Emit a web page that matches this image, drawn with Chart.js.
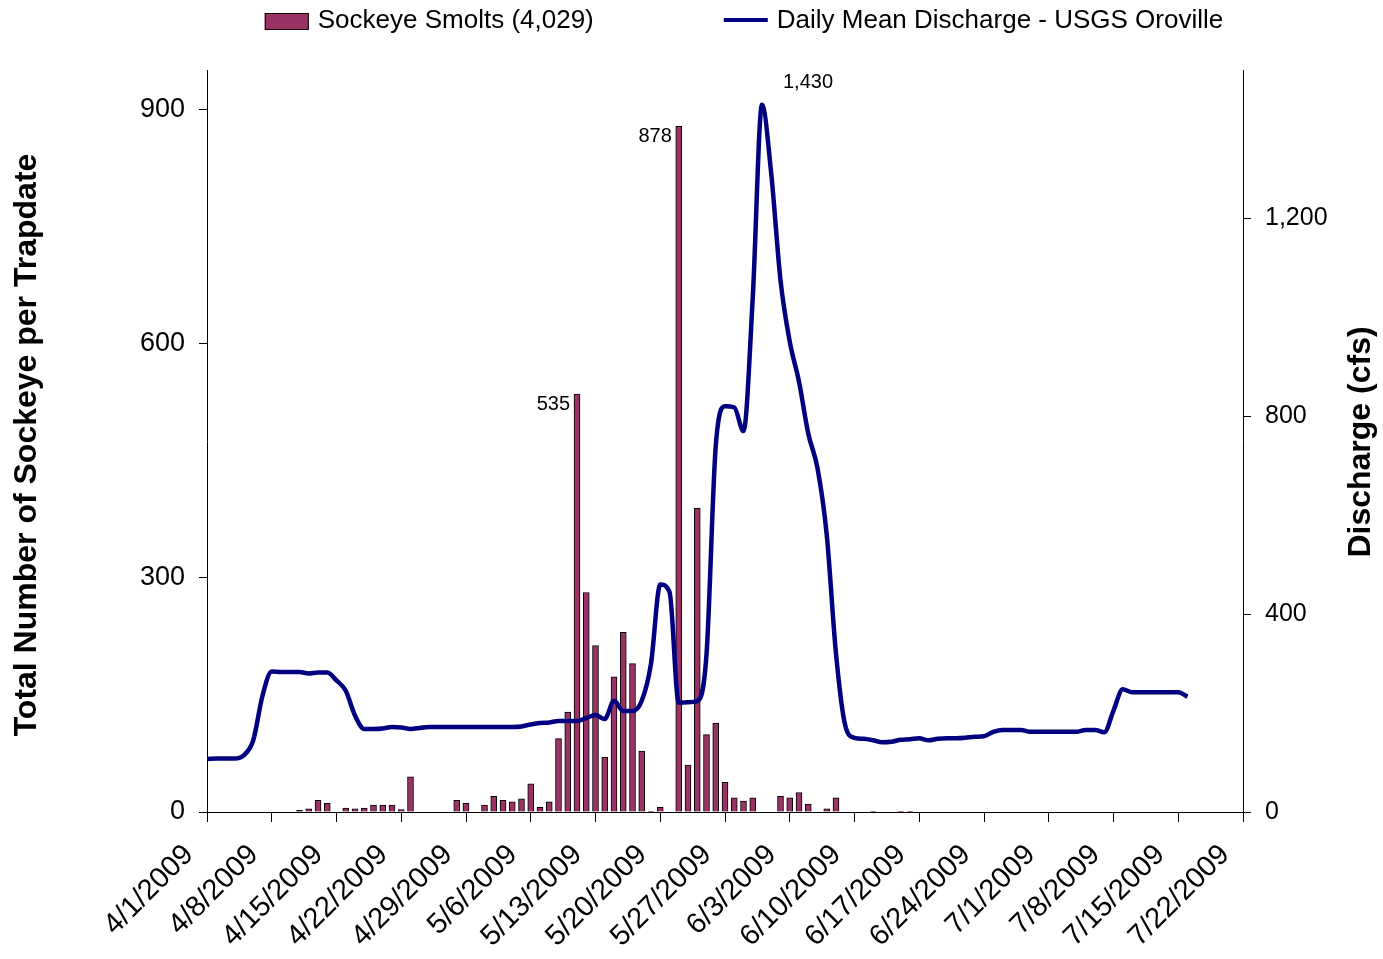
<!DOCTYPE html>
<html>
<head>
<meta charset="utf-8">
<script src="https://cdn.jsdelivr.net/npm/chart.js@4.4.0/dist/chart.umd.min.js"></script>
<style>
  html, body { margin: 0; padding: 0; background: #fff; }
  #wrap { width: 1383px; height: 959px; }
</style>
</head>
<body>
<div id="wrap"><canvas id="chart"></canvas></div>
<script>
// Sockeye smolt counts per trap date
const barDates = ['4/11', '4/12', '4/13', '4/14', '4/16', '4/17', '4/18', '4/19', '4/20', '4/21', '4/22', '4/23',
  '4/28', '4/29', '5/1', '5/2', '5/3', '5/4', '5/5', '5/6', '5/7', '5/8', '5/9', '5/10',
  '5/11', '5/12', '5/13', '5/14', '5/15', '5/16', '5/17', '5/18', '5/19', '5/20',
  '5/22', '5/23', '5/24', '5/25', '5/26', '5/27', '5/28', '5/29', '5/30',
  '6/2', '6/3', '6/4', '6/5', '6/7', '6/8', '6/12', '6/15', '6/16'];
const barCounts = [2, 4, 15, 11, 5, 4, 5, 9, 9, 9, 3, 45,
  15, 11, 9, 20, 15, 13, 17, 36, 6, 13, 94, 128,
  535, 281, 213, 70, 173, 230, 190, 78, 1, 6,
  878, 60, 389, 99, 114, 38, 18, 14, 18,
  20, 18, 25, 10, 4, 18, 1, 1, 1];

// Daily mean discharge (cfs), one value per day from 4/1
const flowStart = '4/1';
const flowValues = [107, 108, 108, 108, 115, 145, 235, 284, 283, 283, 283, 280, 282, 282, 266, 245, 195, 168, 168, 169,
  172, 171, 168, 170, 172, 172, 172, 172, 172, 172, 172, 172, 172, 172, 173, 177, 180, 181, 184, 184,
  184, 190, 196, 188, 225, 204, 204, 225, 300, 460, 445, 221, 222, 224, 318, 740, 820, 818, 770, 1040,
  1430, 1290, 1075, 951, 870, 765, 695, 560, 320, 175, 150, 148, 145, 141, 142, 146, 147, 149, 145, 148,
  149, 149, 150, 152, 153, 162, 166, 166, 166, 162, 162, 162, 162, 162, 162, 166, 166, 161, 205, 248,
  242, 242, 242, 242, 242, 242, 233];

const leftTicks = [0, 300, 600, 900];
const rightTicks = [0, 400, 800, 1200];
const dataLabels = [
  { date: '5/11', value: 535, text: '535', axis: 'y', side: 'left' },
  { date: '5/22', value: 878, text: '878', axis: 'y', side: 'left' },
  { date: '5/31', value: 1430, text: '1,430', axis: 'y1', side: 'right' }
];

const barLabel = 'Sockeye Smolts (4,029)';
const lineLabel = 'Daily Mean Discharge - USGS Oroville';
const barColor = '#993366';
const lineColor = '#000080';

const start = new Date(2009, 3, 1);
function dayOf(s) {
  const [m, d] = s.split('/').map(Number);
  return Math.round((new Date(2009, m - 1, d) - start) / 86400000);
}
function dateLabel(v) {
  const d = new Date(2009, 3, 1 + v);
  return (d.getMonth() + 1) + '/' + d.getDate() + '/2009';
}

const font = "'Liberation Sans', Arial, sans-serif";
Chart.defaults.font.family = font;
Chart.defaults.color = '#000';

const barData = barDates.map((d, i) => ({ x: dayOf(d), y: barCounts[i] }));
const flowDay0 = dayOf(flowStart);
const lineData = flowValues.map((v, i) => ({ x: flowDay0 + i, y: v }));

// legend, axis titles and value labels drawn on the canvas
const extras = {
  id: 'extras',
  afterDraw(chart) {
    const ctx = chart.ctx;
    const area = chart.chartArea;
    ctx.save();

    // legend
    ctx.font = '26px ' + font;
    ctx.textBaseline = 'middle';
    ctx.textAlign = 'left';
    const sw = 44, gap = 9, between = 130;
    const w1 = sw + gap + ctx.measureText(barLabel).width;
    const w2 = sw + gap + ctx.measureText(lineLabel).width;
    let x = (area.left + area.right) / 2 + 19 - (w1 + between + w2) / 2;
    const ly = 21;
    ctx.fillStyle = barColor;
    ctx.fillRect(x, ly - 8, sw, 17);
    ctx.strokeStyle = '#000';
    ctx.lineWidth = 1;
    ctx.strokeRect(x + 0.5, ly - 7.5, sw - 1, 16);
    ctx.fillStyle = '#000';
    ctx.fillText(barLabel, x + sw + gap, ly);
    x += w1 + between;
    ctx.strokeStyle = lineColor;
    ctx.lineWidth = 4;
    ctx.beginPath();
    ctx.moveTo(x, ly - 1);
    ctx.lineTo(x + sw, ly - 1);
    ctx.stroke();
    ctx.fillText(lineLabel, x + sw + gap, ly);

    // axis titles (both read bottom to top)
    ctx.font = 'bold 32px ' + font;
    ctx.textAlign = 'center';
    const midY = (area.top + area.bottom) / 2 + 4;
    ctx.save();
    ctx.translate(27, midY);
    ctx.rotate(-Math.PI / 2);
    ctx.fillText('Total Number of Sockeye per Trapdate', 0, 0);
    ctx.restore();
    ctx.save();
    ctx.translate(1361, midY - 3);
    ctx.rotate(-Math.PI / 2);
    ctx.fillText('Discharge (cfs)', 0, 0);
    ctx.restore();

    // value labels
    ctx.font = '20px ' + font;
    dataLabels.forEach(l => {
      const px = chart.scales.x.getPixelForValue(dayOf(l.date));
      const py = chart.scales[l.axis].getPixelForValue(l.value);
      if (l.side === 'left') {
        ctx.textAlign = 'right';
        ctx.fillText(l.text, px - 7, py + 10);
      } else {
        ctx.textAlign = 'left';
        ctx.fillText(l.text, px + 21, py - 22);
      }
    });
    ctx.restore();
  }
};

new Chart(document.getElementById('chart'), {
  type: 'bar',
  data: {
    datasets: [
      {
        type: 'line',
        label: lineLabel,
        data: lineData,
        yAxisID: 'y1',
        borderColor: lineColor,
        borderWidth: 4.5,
        pointRadius: 0,
        tension: 0.4,
        cubicInterpolationMode: 'monotone',
        fill: false
      },
      {
        label: barLabel,
        data: barData,
        yAxisID: 'y',
        backgroundColor: barColor,
        borderColor: '#000',
        borderWidth: 1,
        barThickness: 6
      }
    ]
  },
  options: {
    responsive: true,
    maintainAspectRatio: false,
    animation: false,
    layout: { padding: { top: 70, left: 0, right: 0, bottom: 0 } },
    plugins: {
      legend: { display: false },
      tooltip: { enabled: false }
    },
    scales: {
      x: {
        type: 'linear',
        min: 0,
        max: 112,
        offset: false,
        afterFit: s => { s.height = 147; },
        ticks: {
          stepSize: 7,
          autoSkip: false,
          minRotation: 45,
          maxRotation: 45,
          labelOffset: -18,
          padding: 16,
          font: { size: 29 },
          callback: v => dateLabel(v)
        },
        grid: { offset: false, drawOnChartArea: false, color: '#000', tickLength: 10 },
        border: { color: '#000', width: 1 }
      },
      y: {
        position: 'left',
        min: 0,
        max: 950,
        afterFit: s => { s.width = 207; },
        afterBuildTicks: s => { s.ticks = leftTicks.map(v => ({ value: v })); },
        ticks: { font: { size: 27 }, padding: 14 },
        grid: { drawOnChartArea: false, color: '#000', tickLength: 8 },
        border: { color: '#000', width: 1 }
      },
      y1: {
        position: 'right',
        min: 0,
        max: 1500,
        afterFit: s => { s.width = 140; },
        afterBuildTicks: s => { s.ticks = rightTicks.map(v => ({ value: v })); },
        ticks: {
          font: { size: 25 },
          padding: 14,
          callback: v => v.toLocaleString('en-US')
        },
        grid: { drawOnChartArea: false, color: '#000', tickLength: 8 },
        border: { color: '#000', width: 1 }
      }
    }
  },
  plugins: [extras]
});
</script>
</body>
</html>
